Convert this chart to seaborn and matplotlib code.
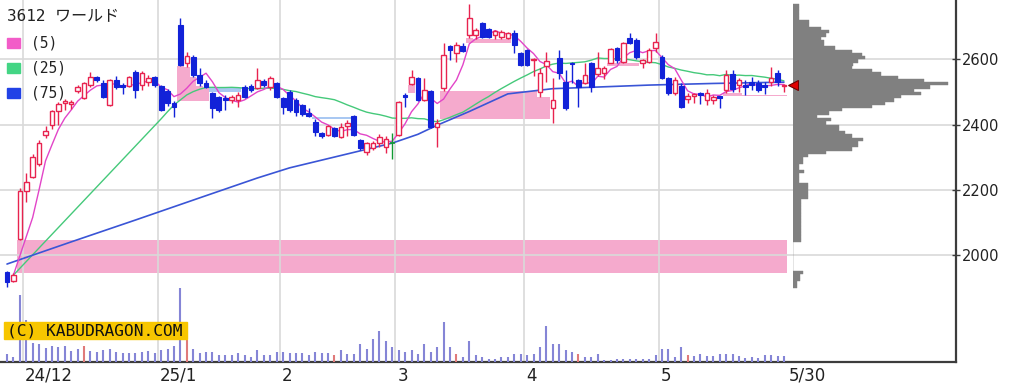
import numpy as np
import pandas as pd
import matplotlib
matplotlib.use("Agg")
import matplotlib.pyplot as plt
import matplotlib.patches as mpatches
import matplotlib.transforms as mtrans
import seaborn as sns

# daily candles, 2024/11/27 .. 2025/5/30 (yen)
opens = [1948, 1920, 2050, 2195, 2240, 2278, 2368, 2400, 2440, 2465, 2462, 2502, 2481, 2521, 2546, 2527,
         2460, 2537, 2520, 2518, 2561, 2521, 2531, 2546, 2518, 2503, 2466, 2705, 2588, 2607, 2552, 2527,
         2497, 2484, 2482, 2475, 2476, 2515, 2518, 2512, 2533, 2515, 2527, 2481, 2500, 2475, 2460, 2434,
         2408, 2374, 2368, 2389, 2362, 2396, 2426, 2352, 2316, 2328, 2343, 2331, 2343, 2368, 2490, 2525,
         2542, 2475, 2503, 2392, 2512, 2640, 2619, 2640, 2674, 2674, 2711, 2692, 2675, 2668, 2665, 2680,
         2619, 2628, 2598, 2500, 2580, 2451, 2604, 2530, 2590, 2537, 2527, 2589, 2555, 2558, 2590, 2635,
         2592, 2665, 2659, 2588, 2592, 2634, 2607, 2542, 2497, 2518, 2478, 2487, 2497, 2475, 2475, 2486,
         2506, 2555, 2521, 2521, 2530, 2527, 2521, 2530, 2558, 2518]
highs = [1952, 1945, 2205, 2250, 2310, 2352, 2395, 2446, 2469, 2478, 2476, 2521, 2530, 2561, 2549, 2537,
         2540, 2549, 2527, 2549, 2567, 2564, 2552, 2549, 2521, 2509, 2472, 2727, 2622, 2613, 2573, 2537,
         2500, 2487, 2490, 2490, 2500, 2521, 2524, 2573, 2540, 2549, 2530, 2484, 2506, 2481, 2463, 2450,
         2416, 2378, 2399, 2392, 2405, 2414, 2430, 2355, 2346, 2349, 2371, 2365, 2374, 2472, 2497, 2567,
         2545, 2542, 2506, 2417, 2650, 2645, 2653, 2650, 2770, 2696, 2715, 2695, 2690, 2690, 2684, 2690,
         2622, 2632, 2604, 2573, 2622, 2542, 2628, 2567, 2592, 2540, 2589, 2592, 2622, 2580, 2635, 2638,
         2653, 2681, 2665, 2600, 2635, 2680, 2613, 2546, 2546, 2527, 2497, 2497, 2500, 2510, 2490, 2486,
         2567, 2567, 2543, 2537, 2545, 2537, 2530, 2577, 2567, 2524]
lows = [1902, 1918, 2046, 2163, 2236, 2273, 2358, 2386, 2398, 2445, 2447, 2497, 2478, 2515, 2530, 2481,
        2457, 2509, 2494, 2515, 2481, 2506, 2518, 2515, 2442, 2457, 2423, 2579, 2576, 2546, 2518, 2512,
        2420, 2439, 2445, 2466, 2454, 2481, 2500, 2509, 2515, 2506, 2481, 2432, 2438, 2425, 2425, 2423,
        2365, 2359, 2365, 2362, 2359, 2365, 2365, 2322, 2307, 2322, 2331, 2312, 2294, 2365, 2454, 2521,
        2472, 2472, 2389, 2331, 2503, 2598, 2591, 2622, 2665, 2663, 2665, 2665, 2663, 2663, 2662, 2620,
        2579, 2579, 2549, 2484, 2530, 2404, 2540, 2445, 2527, 2454, 2524, 2500, 2549, 2540, 2588, 2589,
        2589, 2646, 2600, 2573, 2589, 2622, 2540, 2490, 2490, 2451, 2466, 2466, 2463, 2460, 2463, 2451,
        2497, 2500, 2500, 2491, 2506, 2500, 2494, 2518, 2518, 2500]
closes = [1917, 1938, 2195, 2225, 2300, 2343, 2380, 2440, 2462, 2472, 2470, 2514, 2527, 2545, 2537, 2484,
          2536, 2515, 2515, 2546, 2506, 2558, 2543, 2521, 2445, 2466, 2453, 2583, 2610, 2552, 2527, 2515,
          2451, 2445, 2475, 2484, 2490, 2484, 2506, 2537, 2521, 2542, 2484, 2454, 2445, 2438, 2432, 2425,
          2377, 2365, 2395, 2365, 2392, 2404, 2368, 2328, 2343, 2343, 2361, 2355, 2343, 2469, 2484, 2545,
          2475, 2506, 2392, 2405, 2613, 2630, 2643, 2625, 2726, 2690, 2669, 2669, 2687, 2684, 2680, 2643,
          2583, 2583, 2600, 2558, 2595, 2475, 2558, 2451, 2586, 2515, 2552, 2515, 2573, 2573, 2632, 2598,
          2649, 2650, 2607, 2598, 2628, 2653, 2542, 2497, 2537, 2454, 2487, 2494, 2491, 2497, 2484, 2481,
          2552, 2509, 2537, 2515, 2521, 2506, 2515, 2543, 2530, 2521]
volume = [8, 5, 67, 42, 19, 18, 14, 16, 15, 16, 11, 13, 16, 11, 10, 12, 13, 10, 9, 9, 9, 10, 11, 9,
          12, 13, 16, 74, 22, 13, 9, 10, 10, 7, 7, 7, 9, 7, 5, 12, 7, 7, 10, 10, 9, 9, 9, 7,
          10, 9, 9, 7, 12, 8, 8, 18, 13, 23, 31, 21, 15, 12, 10, 12, 8, 18, 10, 15, 40, 15, 8, 5,
          21, 7, 5, 3, 3, 5, 5, 8, 8, 7, 8, 15, 36, 18, 18, 12, 10, 8, 5, 5, 8, 2, 2, 3,
          3, 3, 3, 3, 3, 7, 13, 13, 5, 15, 7, 6, 8, 6, 6, 8, 8, 8, 6, 4, 5, 4, 7, 7, 6, 6]
red_vol_days = [12, 28, 51, 70, 89, 106]

# price windows (gap days)
gap_up_days = [2, 27, 63, 68, 72, 94, 112]
gap_down_days = [32, 48]

# 75-day average (history before the window is not shown)
ma75_idx = [0, 10, 20, 30, 39, 44, 52, 60, 64, 67, 72, 78, 85, 92, 100, 110, 121]
ma75_val = [1972, 2040, 2107, 2175, 2236, 2267, 2305, 2343, 2370, 2398, 2440, 2494, 2510, 2515, 2521, 2526, 2530]

month_pos = [2.5, 23.5, 42.5, 60.5, 80.5, 101.5]
month_labels = ['24/12', '25/1', '2', '3', '4', '5']
last_label = '5/30'

# price profile, 10-yen bins starting at 1900
profile = [4, 4, 7, 7, 10, 0, 0, 0, 0, 0, 0, 0, 0, 0, 8, 8, 8, 8, 8, 8, 8, 8, 8, 8, 8, 8, 8, 15, 15,
           15, 15, 15, 6, 6, 6, 11, 6, 6, 10, 10, 15, 33, 59, 65, 65, 70, 59, 52, 46, 46, 33, 38, 24,
           36, 49, 79, 92, 101, 108, 128, 121, 137, 155, 131, 105, 88, 79, 59, 60, 65, 72, 69, 59, 42,
           31, 31, 28, 33, 36, 28, 16, 16, 6, 6, 6, 6, 6]
profile_start, profile_step = 1900, 10

RED = '#e8234f'
BLUE = '#1222d8'
PINK_GAP = '#f5aacd'
BLUE_GAP = '#a9c8f2'

sns.set_style("white")
plt.rcParams['font.family'] = ['DejaVu Sans', 'Noto Sans CJK JP']

df = pd.DataFrame({'o': opens, 'h': highs, 'l': lows, 'c': closes, 'v': volume})
df['x'] = np.arange(len(df))
n = len(df)

W, H = 1022, 391
fig = plt.figure(figsize=(W / 100, H / 100), dpi=100)
ax = fig.add_axes([0, 29 / H, 956 / W, 362 / H])
ax.set_xlim(-1.09, 147.8)
ax.set_ylim(1671.5, 2782)

# volume (twin axis, hidden)
vax = ax.twinx()
vax.set_ylim(0, max(volume) * 4.9)
vcol = ['#e07a7a' if i in red_vol_days else '#8585d6' for i in df.x]
vax.vlines(df.x, 0, df.v, colors=vcol, lw=1.5)
vax.set_axis_off()

# windows
for d in gap_up_days:
    bot, top = df.h[d - 1], df.l[d]
    xs, tops = [], []
    i = d
    while i < n:
        top = min(top, df.l[i])
        if top <= bot:
            break
        xs.append(i - 0.5)
        tops.append(top)
        i += 1
    xs.append(i - 0.5)
    tops.append(tops[-1])
    ax.fill_between(xs, bot, tops, step='post', color=PINK_GAP, lw=0, zorder=0.3)
for d in gap_down_days:
    bot, top = df.h[d], df.l[d - 1]
    xs, bots = [], []
    i = d
    while i < n:
        bot = max(bot, df.h[i])
        if bot >= top:
            break
        xs.append(i - 0.5)
        bots.append(bot)
        i += 1
    xs.append(i - 0.5)
    bots.append(bots[-1])
    ax.fill_between(xs, bots, top, step='post', color=BLUE_GAP, lw=0, zorder=0.3)

# grid
for p in month_pos:
    ax.axvline(p, color='#d9d9d9', lw=1.2, zorder=0.5)
ax.set_yticks([2000, 2200, 2400, 2600])
ax.yaxis.grid(True, color='#d9d9d9', lw=1.2)
ax.set_axisbelow(True)

# moving averages
ma5 = df.c.rolling(5).mean()
ma5[1] = df.c[1]
ma25 = df.c.rolling(25).mean()
ma25[1] = df.c[1]
m5 = pd.DataFrame({'x': df.x, 'y': ma5}).dropna()
m25 = pd.DataFrame({'x': df.x, 'y': ma25}).dropna()
sns.lineplot(data=m25, x='x', y='y', ax=ax, color='#45c97a', lw=1, estimator=None, zorder=2)
sns.lineplot(x=ma75_idx, y=ma75_val, ax=ax, color='#3a55d6', lw=1.2, estimator=None, zorder=2)
sns.lineplot(data=m5, x='x', y='y', ax=ax, color='#e245c8', lw=1, estimator=None, zorder=2)

# candles
up = df[df.c > df.o]
dn = df[df.c < df.o]
fl = df[df.c == df.o]
ax.vlines(up.x, up.l, up.h, color=RED, lw=1, zorder=3)
ax.bar(up.x, up.c - up.o, bottom=up.o, width=0.7, facecolor='white', edgecolor=RED, lw=1, zorder=4)
ax.vlines(dn.x, dn.l, dn.h, color=BLUE, lw=1, zorder=3)
ax.bar(dn.x, dn.o - dn.c, bottom=dn.c, width=0.75, facecolor=BLUE, edgecolor=BLUE, lw=0.8, zorder=4)
ax.vlines(fl.x, fl.l, fl.h, color='#119933', lw=1, zorder=3)
ax.hlines(fl.c, fl.x - 0.4, fl.x + 0.4, color='#119933', lw=1.2, zorder=4)

# axes styling
for s in ['left', 'top']:
    ax.spines[s].set_visible(False)
for s in ['right', 'bottom']:
    ax.spines[s].set_color('#3c3c3c')
    ax.spines[s].set_linewidth(1.6)
ax.yaxis.tick_right()
ax.yaxis.set_label_position('right')
ax.tick_params(axis='y', which='both', left=False, labelleft=False, right=True, labelright=True,
               direction='inout', length=6, width=1, color='#3c3c3c',
               labelsize=10.5, labelcolor='#222222', pad=1)
ax.set_xticks(month_pos + [121.5], month_labels + [last_label])
ax.tick_params(axis='x', length=0, pad=3.5, labelsize=12, labelcolor='#222222')
off = mtrans.ScaledTranslation(2 / 100, 0, fig.dpi_scale_trans)
for lbl in ax.get_xticklabels():
    lbl.set_ha('left')
    lbl.set_transform(lbl.get_transform() + off)
ax.set_xlabel('')
ax.set_ylabel('')

# price profile
pax = fig.add_axes([793 / W, 29 / H, 163 / W, 362 / H])
pax.set_ylim(1671.5, 2782)
pax.set_xlim(0, max(profile) * 1.05)
levels = profile_start + profile_step * np.arange(len(profile))
pax.barh(levels + profile_step / 2, profile, height=profile_step, left=0,
         color='#808080', edgecolor='#808080', lw=0.3)
pax.plot([0], [closes[-1]], marker='<', ms=7, color='#e00000', mec='#700000', mew=0.8, clip_on=False)
pax.set_axis_off()

# legend
def fx(px):
    return px / W

def fy(py):
    return 1 - py / H

fig.text(fx(7), fy(17), '3612 ワールド', fontsize=11.5, va='center', ha='left',
         family=['DejaVu Sans Mono', 'Noto Sans CJK JP'], color='#222222')
for k, (col, lab) in enumerate([('#f25cc8', '(5)'), ('#43d584', '(25)'), ('#2242e6', '(75)')]):
    yc = 43 + k * 25
    fig.patches.append(mpatches.Rectangle((fx(7), fy(yc + 5)), 13 / W, 10 / H, color=col,
                                          transform=fig.transFigure, figure=fig))
    fig.text(fx(31), fy(yc), lab, fontsize=10.5, va='center', ha='left',
             family='DejaVu Sans Mono', color='#222222')

# copyright tag
fig.patches.append(mpatches.Rectangle((fx(4), fy(339)), 183 / W, 17 / H, color='#f7c600',
                                      transform=fig.transFigure, figure=fig, zorder=5))
fig.text(fx(7), fy(330.5), '(C) KABUDRAGON.COM', fontsize=11.7, va='center', ha='left',
         family='DejaVu Sans Mono', color='#111111', zorder=6)

fig.savefig('out.png', dpi=100)
